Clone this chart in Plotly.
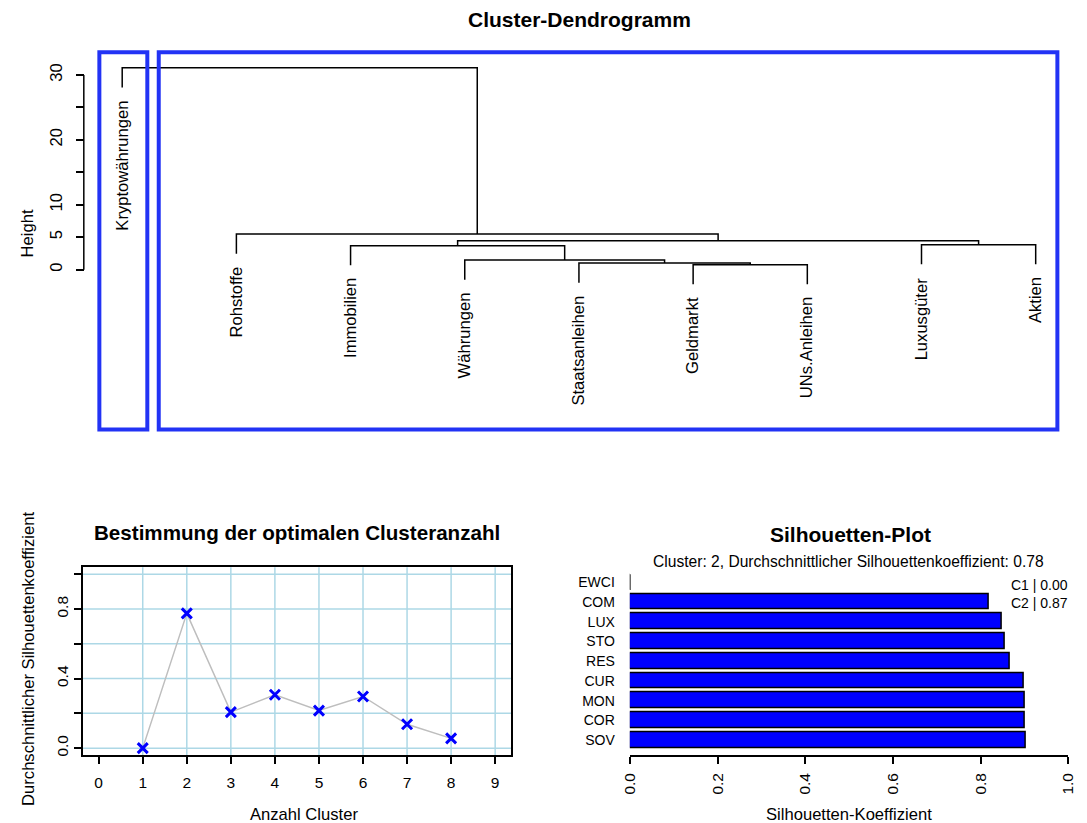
import plotly.graph_objects as go

# ---------------- data ----------------
leaf_labels = ["Kryptowährungen", "Rohstoffe", "Immobilien", "Währungen", "Staatsanleihen",
               "Geldmarkt", "UNs.Anleihen", "Luxusgüter", "Aktien"]
# merges (R style): string = leaf, int = earlier merge step (1-based)
merge_a = ["Geldmarkt", "Staatsanleihen", "Währungen", "Immobilien", "Luxusgüter", 4, "Rohstoffe", "Kryptowährungen"]
merge_b = ["UNs.Anleihen", 1, 2, 3, "Aktien", 5, 6, 7]
merge_height = [0.77, 1.03, 1.5, 3.7, 3.85, 4.45, 5.5, 31.1]
height_ticks = [0, 5, 10, 15, 20, 25, 30]
height_ticktext = ["0", "5", "10", "", "20", "", "30"]

k_values = [1, 2, 3, 4, 5, 6, 7, 8]
sil_avg = [0.0, 0.775, 0.207, 0.307, 0.216, 0.297, 0.137, 0.056]

sil_labels = ["EWCI", "COM", "LUX", "STO", "RES", "CUR", "MON", "COR", "SOV"]
sil_values = [0.0, 0.820, 0.848, 0.855, 0.868, 0.899, 0.900, 0.901, 0.903]
sil_cluster = [1, 2, 2, 2, 2, 2, 2, 2, 2]

FONT = "Liberation Sans, Arial, sans-serif"
W, H = 1087, 823
BOXBLUE = "#2233F5"

def fx(px):
    return px / W

def fy(py):
    return 1 - py / H

fig = go.Figure()

# ---------------- dendrogram ----------------
leaf_x = {name: i + 1 for i, name in enumerate(leaf_labels)}
hang = 0.1 * (max(merge_height) - min(merge_height))
node_x, node_y = [], []
leaf_end = {}

def child_pos(c, h_parent):
    if isinstance(c, str):
        leaf_end[c] = h_parent - hang
        return leaf_x[c], h_parent - hang
    return node_x[c - 1], node_y[c - 1]

lx, ly = [], []
for a, b, h in zip(merge_a, merge_b, merge_height):
    xa, ya = child_pos(a, h)
    xb, yb = child_pos(b, h)
    lx += [xa, xa, xb, xb, None]
    ly += [ya, h, h, yb, None]
    node_x.append((xa + xb) / 2)
    node_y.append(h)

fig.add_trace(go.Scatter(x=lx, y=ly, mode="lines", line=dict(color="black", width=1.5),
                         xaxis="x", yaxis="y", showlegend=False, hoverinfo="skip"))

annotations = []
for name in leaf_labels:
    annotations.append(dict(x=leaf_x[name], y=leaf_end[name], xref="x", yref="y",
                            text=name, showarrow=False, textangle=-90,
                            xanchor="center", yanchor="top", yshift=-11,
                            font=dict(family=FONT, size=16.6, color="black")))

# cluster boxes (rect.hclust style)
shapes = []
shapes.append(dict(type="rect", xref="x", yref="y", x0=0.80, x1=1.22, y0=-24.6, y1=33.5,
                   line=dict(color=BOXBLUE, width=4), fillcolor="rgba(0,0,0,0)"))
shapes.append(dict(type="rect", xref="x", yref="y", x0=1.32, x1=9.19, y0=-24.6, y1=33.5,
                   line=dict(color=BOXBLUE, width=4), fillcolor="rgba(0,0,0,0)"))
# y axis line (R style, only between first and last tick)
AXX = 76
shapes.append(dict(type="line", xref="paper", yref="y", x0=fx(AXX), x1=fx(AXX),
                   y0=height_ticks[0], y1=height_ticks[-1], line=dict(color="black", width=1.5)))

# ---------------- optimal cluster number ----------------
for v in range(1, 10):
    shapes.append(dict(type="line", xref="x2", yref="y2 domain", x0=v, x1=v, y0=0, y1=1,
                       line=dict(color="#ADD8E6", width=1.5), layer="below"))
for v in [0, 0.2, 0.4, 0.6, 0.8, 1.0]:
    shapes.append(dict(type="line", xref="x2 domain", yref="y2", x0=0, x1=1, y0=v, y1=v,
                       line=dict(color="#ADD8E6", width=1.5), layer="below"))

fig.add_trace(go.Scatter(x=k_values, y=sil_avg, mode="lines", line=dict(color="#BEBEBE", width=1.5),
                         xaxis="x2", yaxis="y2", showlegend=False, hoverinfo="skip"))
fig.add_trace(go.Scatter(x=k_values, y=sil_avg, mode="markers",
                         marker=dict(symbol="x-thin", size=10, color="blue",
                                     line=dict(color="blue", width=3)),
                         xaxis="x2", yaxis="y2", showlegend=False, hoverinfo="skip"))

# ---------------- silhouette plot ----------------
n = len(sil_labels)
ypos = [n - 1 - i for i in range(n)]
bar_w = 0.8
fig.add_trace(go.Bar(x=sil_values, y=ypos, orientation="h", width=bar_w,
                     marker=dict(color="#0000FF", line=dict(color="black", width=1.5)),
                     xaxis="x3", yaxis="y3", showlegend=False, hoverinfo="skip"))
for v, yp in zip(sil_values, ypos):
    if v == 0:
        shapes.append(dict(type="line", xref="x3", yref="y3", x0=v, x1=v,
                           y0=yp - bar_w / 2, y1=yp + bar_w / 2,
                           line=dict(color="black", width=1.5)))

clusters = sorted(set(sil_cluster))
overall = sum(sil_values) / len(sil_values)
cl_text = []
for c in clusters:
    vals = [v for v, cc in zip(sil_values, sil_cluster) if cc == c]
    cl_text.append(f"C{c} | {sum(vals) / len(vals):.2f}")

for i, t in enumerate(cl_text):
    annotations.append(dict(x=fx(1078), y=fy(586 + 18 * i), xref="paper", yref="paper",
                            text=t, showarrow=False, xanchor="right", yanchor="middle",
                            font=dict(family=FONT, size=14, color="black")))

# ---------------- titles ----------------
def txt(x, y, text, size, bold=False, angle=0):
    annotations.append(dict(x=fx(x), y=fy(y), xref="paper", yref="paper",
                            text=f"<b>{text}</b>" if bold else text, showarrow=False,
                            textangle=angle, xanchor="center", yanchor="middle",
                            font=dict(family=FONT, size=size, color="black")))

txt(580, 20, "Cluster-Dendrogramm", 21, bold=True)
txt(19, 234, "Height", 16.6, angle=-90)
txt(293, 533, "Bestimmung der optimalen Clusteranzahl", 20.6, bold=True)
txt(19, 660, "Durchschnittlicher Silhouettenkoeffizient", 16.6, angle=-90)
txt(300, 815, "Anzahl Cluster", 16.6)
txt(855, 535, "Silhouetten-Plot", 21, bold=True)
txt(853, 562, f"Cluster: {len(clusters)}, Durchschnittlicher Silhouettenkoeffizient: {overall:.2f}", 15.6)
txt(853, 815, "Silhouetten-Koeffizient", 16.6)

axis_font = dict(family=FONT, size=16.6, color="black")
small_font = dict(family=FONT, size=15.5, color="black")

x1px, step = 115, 116
fig.update_layout(
    width=W, height=H, margin=dict(l=0, r=0, t=0, b=0),
    paper_bgcolor="white", plot_bgcolor="rgba(0,0,0,0)",
    showlegend=False, shapes=shapes, annotations=annotations,
    font=dict(family=FONT, color="black"),
    xaxis=dict(domain=[0, 1], range=[1 - x1px / step, 1 + (W - x1px) / step],
               visible=False, anchor="y"),
    yaxis=dict(domain=[fy(440), fy(45)], range=[(270 - 440) / 6.5, (270 - 45) / 6.5],
               anchor="free", position=fx(AXX), showgrid=False, zeroline=False, showline=False,
               tickvals=height_ticks, ticktext=height_ticktext, ticks="outside", ticklen=8,
               tickwidth=1.5, tickcolor="black", tickangle=-90, tickfont=axis_font,
               ticklabelstandoff=7),
    xaxis2=dict(domain=[fx(75), fx(510)], range=[-0.36, 9.36], anchor="y2",
                showgrid=False, zeroline=False, showline=True, mirror=True, linecolor="black",
                linewidth=1.5, tickvals=list(range(10)), ticks="outside", ticklen=7,
                tickwidth=1.5, tickcolor="black", tickfont=small_font, ticklabelstandoff=6),
    yaxis2=dict(domain=[fy(756), fy(568)], range=[-0.04, 1.04], anchor="x2",
                showgrid=False, zeroline=False, showline=True, mirror=True, linecolor="black",
                linewidth=1.5, tickvals=[0, 0.2, 0.4, 0.6, 0.8, 1.0],
                ticktext=["0.0", "", "0.4", "", "0.8", ""], ticks="outside", ticklen=7,
                tickwidth=1.5, tickcolor="black", tickangle=-90, tickfont=small_font),
    xaxis3=dict(domain=[fx(630.7), fx(1076)], range=[0, 1], anchor="y3",
                showgrid=False, zeroline=False, showline=True, linecolor="black", linewidth=1.5,
                tickvals=[0, 0.2, 0.4, 0.6, 0.8, 1.0],
                ticktext=["0.0", "0.2", "0.4", "0.6", "0.8", "1.0"], ticks="outside", ticklen=7,
                tickwidth=1.5, tickcolor="black", tickangle=-90, tickfont=small_font,
                ticklabelstandoff=3),
    yaxis3=dict(domain=[fy(756), fy(571)], range=[-0.76, 8.6], anchor="x3",
                showgrid=False, zeroline=False, showline=False, tickvals=ypos,
                ticktext=sil_labels, ticks="", tickfont=dict(family=FONT, size=14, color="black"),
                ticklabelstandoff=14),
    bargap=0,
)

fig.write_html("out.html", config={"displayModeBar": False})
